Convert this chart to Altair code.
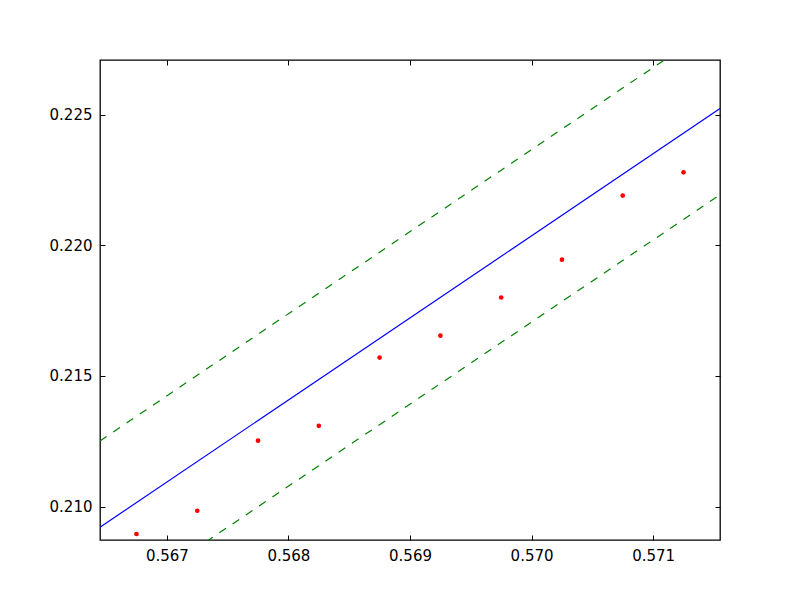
import altair as alt
import pandas as pd

# data
pt_x = [0.56675, 0.56725, 0.56775, 0.56825, 0.56875, 0.56925, 0.56975, 0.57025, 0.57075, 0.57125]
pt_y = [0.20895, 0.20984, 0.21252, 0.21309, 0.21570, 0.21654, 0.21800, 0.21945, 0.22190, 0.22279]
fit_x = [0.56645, 0.57155]
fit_y = [0.20921, 0.22523]
upper_y = [0.21251, 0.22853]
lower_y = [0.20591, 0.22193]
x_ticks = [0.567, 0.568, 0.569, 0.570, 0.571]
y_ticks = [0.210, 0.215, 0.220, 0.225]
x_dom = [0.56645, 0.57155]
y_dom = [0.20872, 0.22709]

W, H = 620, 480
FONT = "DejaVu Sans"

pts = pd.DataFrame({"x": pt_x, "y": pt_y})
fit = pd.DataFrame({"x": fit_x, "y": fit_y})
up = pd.DataFrame({"x": fit_x, "y": upper_y})
lo = pd.DataFrame({"x": fit_x, "y": lower_y})

xs = alt.Scale(domain=x_dom, nice=False, zero=False)
ys = alt.Scale(domain=y_dom, nice=False, zero=False)

lab = dict(labelFont=FONT, labelFontSize=15, labelColor="black", grid=False, title=None, domain=False, ticks=False, labelPadding=8, format=".3f")
tk = dict(labels=False, grid=False, title=None, domain=False, ticks=True, tickSize=5, tickColor="black", tickWidth=1)

points = alt.Chart(pts).mark_circle(color="#ff0000", size=22, opacity=1).encode(
    x=alt.X("x:Q", scale=xs, axis=alt.Axis(orient="bottom", values=x_ticks, **lab)),
    y=alt.Y("y:Q", scale=ys, axis=alt.Axis(orient="left", values=y_ticks, **lab)),
)

fitline = alt.Chart(fit).mark_line(color="#0000ff", strokeWidth=1.2, clip=True).encode(
    x=alt.X("x:Q", scale=xs, axis=alt.Axis(orient="top", offset=-H, values=x_ticks, **tk)),
    y=alt.Y("y:Q", scale=ys, axis=alt.Axis(orient="right", offset=-W, values=y_ticks, **tk)),
)

upper = alt.Chart(up).mark_line(color="#008000", strokeWidth=1.2, strokeDash=[8, 8], clip=True).encode(
    x=alt.X("x:Q", scale=xs, axis=alt.Axis(orient="bottom", offset=-H, values=x_ticks, **tk)),
    y=alt.Y("y:Q", scale=ys, axis=alt.Axis(orient="left", offset=-W, values=y_ticks, **tk)),
)

lower = alt.Chart(lo).mark_line(color="#008000", strokeWidth=1.2, strokeDash=[8, 8], clip=True).encode(
    x=alt.X("x:Q", scale=xs, axis=None),
    y=alt.Y("y:Q", scale=ys, axis=None),
)

chart = alt.layer(fitline, upper, lower, points).resolve_axis(
    x="independent", y="independent"
).properties(
    width=W, height=H, autosize="none", background="white",
    padding={"left": 92, "top": 52, "right": 72, "bottom": 52},
).configure_view(stroke="black", strokeWidth=1.3)

chart.save("out.html", embed_options={"renderer": "svg", "actions": False})
